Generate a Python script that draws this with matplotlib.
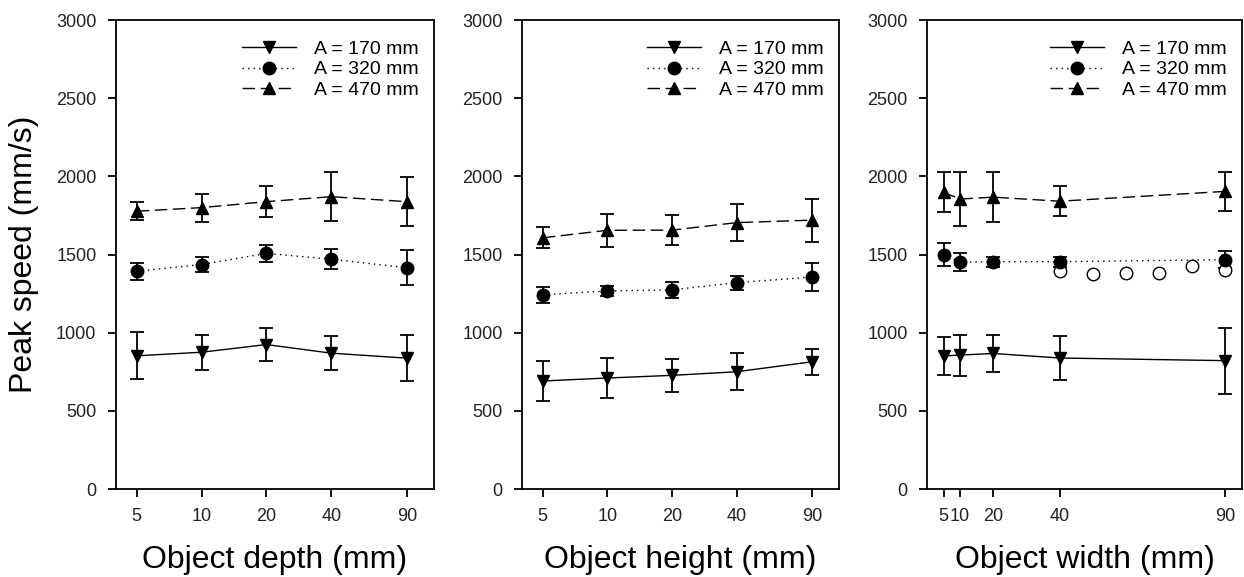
import matplotlib
matplotlib.use("Agg")
import matplotlib.pyplot as plt
from matplotlib.lines import Line2D
from matplotlib.ticker import NullLocator

plt.rcParams["font.family"] = ["Liberation Sans", "DejaVu Sans"]

# object sizes (mm)
sizes = [5, 10, 20, 40, 90]
size_labels = ["5", "10", "20", "40", "90"]
amplitudes = ["A = 170 mm", "A = 320 mm", "A = 470 mm"]

# peak speed (mm/s) and error, per panel, per amplitude
depth_170 = [852, 875, 924, 869, 837]
depth_170_err = [150, 113, 107, 107, 147]
depth_320 = [1393, 1436, 1507, 1470, 1415]
depth_320_err = [55, 50, 55, 65, 113]
depth_470 = [1777, 1800, 1838, 1870, 1838]
depth_470_err = [57, 90, 100, 158, 155]

height_170 = [691, 710, 727, 750, 814]
height_170_err = [129, 130, 105, 118, 82]
height_320 = [1242, 1267, 1274, 1320, 1356]
height_320_err = [53, 32, 51, 44, 92]
height_470 = [1607, 1655, 1656, 1704, 1720]
height_470_err = [66, 107, 97, 120, 138]

width_170 = [851, 857, 867, 838, 821]
width_170_err = [119, 131, 118, 143, 211]
width_320 = [1499, 1452, 1454, 1454, 1467]
width_320_err = [74, 58, 32, 32, 55]
width_470 = [1897, 1855, 1867, 1841, 1904]
width_470_err = [128, 172, 160, 97, 123]

# extra open circles in the width panel
extra_x = [40, 50, 60, 70, 80, 90]
extra_y = [1395, 1376, 1382, 1382, 1427, 1401]

panels = [
    ("Object depth (mm)", [(depth_170, depth_170_err), (depth_320, depth_320_err), (depth_470, depth_470_err)]),
    ("Object height (mm)", [(height_170, height_170_err), (height_320, height_320_err), (height_470, height_470_err)]),
    ("Object width (mm)", [(width_170, width_170_err), (width_320, width_320_err), (width_470, width_470_err)]),
]
markers = ["v", "o", "^"]
styles = ["-", (0, (1, 3)), (0, (9, 4))]

fig = plt.figure(figsize=(12.44, 5.77), dpi=100)
lefts = [0.0932, 0.4196, 0.7452]
widths = [0.2556, 0.2548, 0.2532]

for i, (xlabel, series) in enumerate(panels):
    ax = fig.add_axes([lefts[i], 0.1525, widths[i], 0.8128])
    handles = []
    for (vals, errs), mk, ls, lab in zip(series, markers, styles, amplitudes):
        ax.errorbar(sizes, vals, yerr=errs, marker=mk, linestyle=ls, color="black",
                    markersize=9, linewidth=1.0, elinewidth=1.3, capsize=5,
                    capthick=1.3)
        handles.append(Line2D([], [], color="black", marker=mk, linestyle=ls,
                              markersize=9, linewidth=1.0, label=lab))
    if i == 2:
        ax.plot(extra_x, extra_y, "o", markerfacecolor="white", markeredgecolor="black",
                markersize=9, markeredgewidth=1.0, linestyle="None")
        ax.set_xlim(0, 95)
    else:
        ax.set_xscale("log")
        ax.set_xlim(4, 120)
    ax.set_xticks(sizes)
    ax.set_xticklabels(size_labels)
    ax.xaxis.set_minor_locator(NullLocator())
    ax.set_ylim(0, 3000)
    ax.set_yticks([0, 500, 1000, 1500, 2000, 2500, 3000])
    ax.tick_params(direction="out", length=6, width=1.3, labelsize=13, pad=8,
                   labelcolor="#222222")
    ax.tick_params(axis="x", top=False)
    ax.tick_params(axis="y", right=False)
    for sp in ax.spines.values():
        sp.set_linewidth(1.3)
    ax.set_xlabel(xlabel, fontsize=23, labelpad=14)
    if i == 0:
        ax.set_ylabel("Peak speed (mm/s)", fontsize=23, labelpad=12)
    ax.legend(handles=handles, loc="upper right", bbox_to_anchor=(1.0, 0.99),
              frameon=False, fontsize=14, handlelength=2.8, labelspacing=0.15,
              borderpad=0.3, handletextpad=0.9)

plt.savefig("out.png", dpi=100)
